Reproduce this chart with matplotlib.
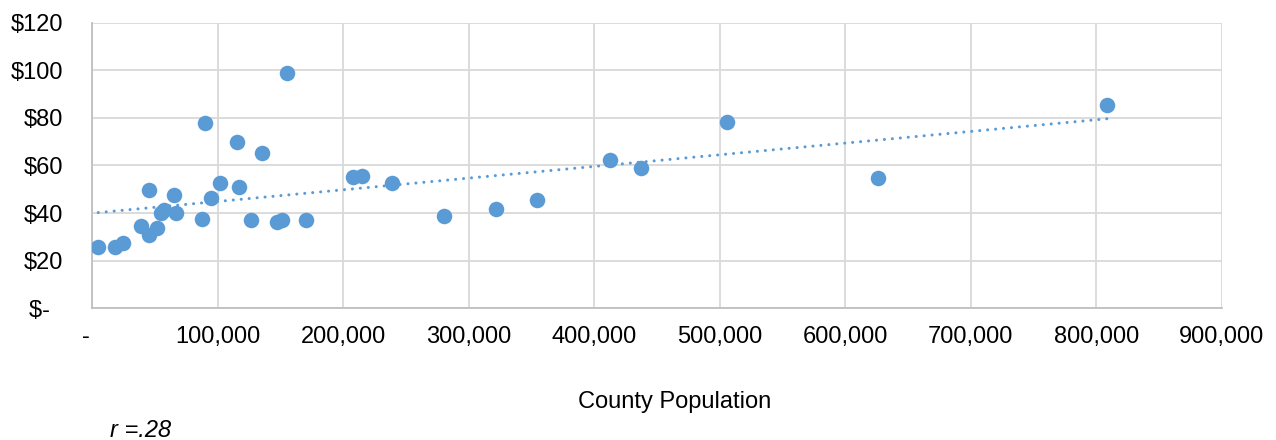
import numpy as np
import matplotlib.pyplot as plt
from matplotlib.ticker import FuncFormatter

plt.rcParams['font.family'] = ['Liberation Sans', 'DejaVu Sans']

# county population vs. per-capita amount
population = [5000, 18300, 25000, 38800, 45400, 51500, 45700, 54700, 57600, 66700,
              65100, 87900, 89800, 94600, 101700, 115500, 117400, 126900, 135500, 147700,
              151700, 155100, 170300, 208200, 214900, 239000, 280700, 321400, 354800, 412700,
              437200, 506000, 626300, 808800]
amount = [25.6, 25.6, 27.3, 34.6, 30.8, 33.6, 49.7, 39.9, 41.3, 40.2,
          47.6, 37.5, 77.7, 46.3, 52.8, 69.7, 50.8, 37.2, 65.3, 36.4,
          37.1, 98.7, 37.2, 55.0, 55.5, 52.8, 38.9, 41.7, 45.5, 62.3,
          59.1, 78.2, 54.9, 85.4]
x_ticks = list(range(0, 900001, 100000))
y_ticks = list(range(0, 121, 20))
blue = '#5B9BD5'

fig = plt.figure(figsize=(12.76, 4.4), dpi=100)
ax = fig.add_axes([92 / 1276, 1 - 308.3 / 440, (1222 - 92) / 1276, (308.3 - 22.7) / 440])

ax.scatter(population, amount, s=125, color=blue, zorder=3, linewidths=0)

# linear trendline over the data range
slope, intercept = np.polyfit(population, amount, 1)
xs = np.array([min(population), max(population)])
ax.plot(xs, slope * xs + intercept, color=blue, lw=2.2,
        linestyle=(0, (0.01, 2.6)), dash_capstyle='round', zorder=2)

ax.set_xlim(0, 900000)
ax.set_ylim(0, 120)
ax.set_xticks(x_ticks)
ax.set_yticks(y_ticks)
ax.xaxis.set_major_formatter(FuncFormatter(lambda v, p: '-  ' if v == 0 else f'{int(v):,}'))
ax.yaxis.set_major_formatter(FuncFormatter(lambda v, p: '$-  ' if v == 0 else f'${int(v)}'))
ax.tick_params(length=0, labelsize=17, colors='black')
ax.tick_params(axis='y', pad=21)
ax.tick_params(axis='x', pad=13)

ax.grid(True, color='#D9D9D9', linewidth=1.3)
ax.set_axisbelow(True)
for side in ['top', 'right']:
    ax.spines[side].set_visible(False)
for side in ['left', 'bottom']:
    ax.spines[side].set_color('#BFBFBF')
    ax.spines[side].set_linewidth(1.3)

fig.text(675 / 1276, 1 - 402 / 440, 'County Population', ha='center', va='center', fontsize=17)
fig.text(110 / 1276, 1 - 430 / 440, 'r =.28', ha='left', va='center', fontsize=17, style='italic')

fig.savefig('out.png', dpi=100)
